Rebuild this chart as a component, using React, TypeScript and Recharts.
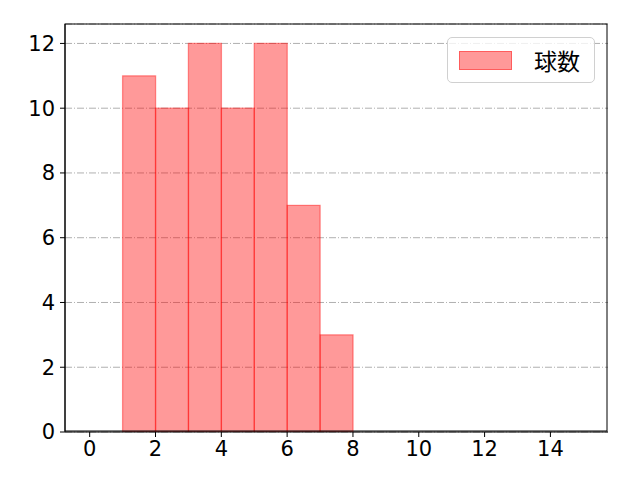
import React from "react";
import { ComposedChart, Bar, XAxis, YAxis, CartesianGrid, Legend } from "recharts";

const binCenters = [0.5, 1.5, 2.5, 3.5, 4.5, 5.5, 6.5, 7.5, 8.5, 9.5, 10.5, 11.5, 12.5, 13.5, 14.5];
const counts = [0, 11, 10, 12, 10, 12, 7, 3, 0, 0, 0, 0, 0, 0, 0];
const xTicks = [0, 2, 4, 6, 8, 10, 12, 14];
const yTicks = [0, 2, 4, 6, 8, 10, 12];
const seriesName = "球数";

const data = binCenters.map((c, i) => ({ x: c, v: counts[i] }));

const TICK_FONT = "'DejaVu Sans', sans-serif";
const CJK_FONT = "'Noto Sans CJK JP', 'DejaVu Sans', sans-serif";

const LegendBox = () => (
  <div
    style={{
      width: 148,
      height: 46,
      border: "1px solid #d0d0d0",
      borderRadius: 5,
      background: "rgba(255,255,255,0.8)",
      boxSizing: "border-box",
      display: "flex",
      alignItems: "center",
      fontFamily: CJK_FONT,
      fontSize: 23,
      color: "#000",
    }}
  >
    <div
      style={{
        marginLeft: 11,
        width: 53,
        height: 19,
        background: "rgba(255,0,0,0.4)",
        border: "1px solid rgba(255,0,0,0.4)",
        boxSizing: "border-box",
      }}
    />
    <span style={{ marginLeft: 22, lineHeight: "46px" }}>{seriesName}</span>
  </div>
);

export default function App() {
  return (
    <div style={{ position: "absolute", left: 0, top: 0, width: 640, height: 480, background: "#fff" }}>
      <ComposedChart
        width={640}
        height={480}
        data={data}
        margin={{ top: 24, right: 32, bottom: 0, left: 5 }}
        barCategoryGap={0}
        barGap={0}
      >
        <CartesianGrid
          horizontal
          vertical={false}
          stroke="#b0b0b0"
          strokeWidth={1}
          strokeDasharray="7 2 1 2"
        />
        <XAxis
          dataKey="x"
          type="number"
          domain={[-0.75, 15.75]}
          ticks={xTicks}
          allowDataOverflow
          interval={0}
          height={48}
          stroke="#000"
          tickLine={{ stroke: "#000" }}
          tickSize={5}
          tickMargin={4}
          tick={{ fill: "#000", fontSize: 21, fontFamily: TICK_FONT }}
        />
        <YAxis
          type="number"
          domain={[0, 12.6]}
          ticks={yTicks}
          allowDataOverflow
          width={60}
          stroke="#000"
          tickSize={5}
          tickMargin={5}
          tick={{ fill: "#000", fontSize: 21, fontFamily: TICK_FONT }}
        />
        <Legend
          layout="horizontal"
          verticalAlign="middle"
          align="center"
          content={() => <LegendBox />}
          wrapperStyle={{ position: "absolute", top: 37, left: 447, width: 148, height: 46 }}
        />
        <Bar
          dataKey="v"
          name={seriesName}
          fill="#ff0000"
          fillOpacity={0.4}
          stroke="#ff0000"
          strokeOpacity={0.4}
          strokeWidth={1.3}
          isAnimationActive={false}
        />
      </ComposedChart>
      <div
        style={{
          position: "absolute",
          left: 65,
          top: 24,
          width: 543,
          height: 408,
          border: "1px solid #000",
          boxSizing: "border-box",
          pointerEvents: "none",
          transform: "translate(-0.5px, -0.5px)",
          margin: 0,
        }}
      />
    </div>
  );
}
